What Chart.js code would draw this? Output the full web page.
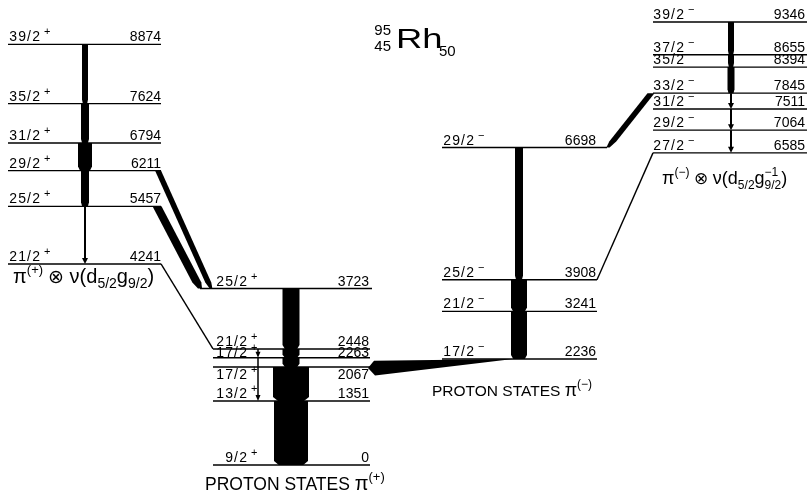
<!DOCTYPE html>
<html>
<head>
<meta charset="utf-8">
<script src="https://cdn.jsdelivr.net/npm/chart.js@4/dist/chart.umd.min.js"></script>
<style>
  html, body { margin: 0; padding: 0; background: #fff; }
  #wrap { width: 807px; height: 498px; }
</style>
</head>
<body>
<div id="wrap"><canvas id="scheme" width="807" height="498"></canvas></div>
<script>
// ---- Level energies (keV) and spin labels, per band ----
const hiPosSpins    = ['21/2', '25/2', '29/2', '31/2', '35/2', '39/2'];
const hiPosEnergies = [4241, 5457, 6211, 6794, 7624, 8874];

const protPosSpins    = ['9/2', '13/2', '17/2', '17/2', '21/2', '25/2'];
const protPosEnergies = [0, 1351, 2067, 2263, 2448, 3723];

const protNegSpins    = ['17/2', '21/2', '25/2', '29/2'];
const protNegEnergies = [2236, 3241, 3908, 6698];

const hiNegSpins    = ['27/2', '29/2', '31/2', '33/2', '35/2', '37/2', '39/2'];
const hiNegEnergies = [6585, 7064, 7511, 7845, 8394, 8655, 9346];

// ---- Gamma transitions: [initial keV, final keV, relative intensity] ----
const hiPosGammas   = [[8874, 7624, 6], [7624, 6794, 8], [6794, 6211, 14], [6211, 5457, 8], [5457, 4241, 2]];
const protPosGammas = [[3723, 2448, 17], [2448, 2263, 17], [2263, 2067, 17], [2067, 1351, 36], [1351, 0, 34]];
const protPosWeak   = [[2448, 2263, 1.5], [2263, 1351, 1.5]];
const protNegGammas = [[6698, 3908, 8], [3908, 3241, 16], [3241, 2236, 16]];
const hiNegGammas   = [[9346, 8655, 6], [8655, 8394, 6], [8394, 7845, 7], [7845, 7511, 2], [7511, 7064, 2], [7064, 6585, 2]];
// inter-band transitions
const linkGammas    = [[6211, 3723, 6], [5457, 3723, 9], [7845, 6698, 7]];
const wedgeGamma    = [2236, 2067, 14];
// band connections drawn as thin lines: [keV on one band, keV on the other]
const bandLinks     = [[4241, 2448], [3908, 6585]];

// ---- Layout of the four columns (x in canvas units) ----
const cols = {
  hiPos:   { x0: 8,   x1: 161, spinRight: 40,  eRight: 161, arrowX: 85,  sign: '+' },
  protPos: { x0: 213, x1: 370, spinRight: 247, eRight: 369, arrowX: 291, sign: '+' },
  protNeg: { x0: 442, x1: 597, spinRight: 474, eRight: 596, arrowX: 519, sign: '−' },
  hiNeg:   { x0: 653, x1: 807, spinRight: 684, eRight: 805, arrowX: 731, sign: '−' }
};
const extentOverride = { 3723: [200, 372], 6698: [442, 607] };
const labelShift = { 2263: 2, 2067: 15 };
const linkGeom = [
  { xs: 158, xe: 211 },
  { xs: 157, xe: 200 },
  { xs: 651, xe: 608 }
];
const bandLinkGeom = [{ xa: 161, xb: 213 }, { xa: 597, xb: 653 }];
const wedgeGeom = { xRight: 513, xTip: 368 };
const weakX = 258;

const bands = [
  { col: cols.hiPos,   spins: hiPosSpins,   energies: hiPosEnergies,   gammas: hiPosGammas },
  { col: cols.protPos, spins: protPosSpins, energies: protPosEnergies, gammas: protPosGammas },
  { col: cols.protNeg, spins: protNegSpins, energies: protNegEnergies, gammas: protNegGammas },
  { col: cols.hiNeg,   spins: hiNegSpins,   energies: hiNegEnergies,   gammas: hiNegGammas }
];

// ---- Level lines as line datasets ----
const datasets = [];
bands.forEach(b => {
  b.energies.forEach(e => {
    const ext = extentOverride[e] || [b.col.x0, b.col.x1];
    datasets.push({
      data: [{ x: ext[0], y: e }, { x: ext[1], y: e }],
      showLine: true, borderColor: '#000', borderWidth: 1.4,
      pointRadius: 0, fill: false
    });
  });
});
bandLinks.forEach((l, i) => {
  const g = bandLinkGeom[i];
  datasets.push({
    data: [{ x: g.xa, y: l[0] }, { x: g.xb, y: l[1] }],
    showLine: true, borderColor: '#000', borderWidth: 1.4,
    pointRadius: 0, fill: false
  });
});

const FONT = '"Liberation Sans", Arial, sans-serif';

function vArrow(ctx, cx, yt, yb, w) {
  if (w < 4) {
    const hh = 6, hw = w < 2 ? 2.5 : 3;
    ctx.lineWidth = w;
    ctx.beginPath(); ctx.moveTo(cx, yt); ctx.lineTo(cx, yb - hh + 1); ctx.stroke();
    ctx.beginPath(); ctx.moveTo(cx - hw, yb - hh); ctx.lineTo(cx + hw, yb - hh); ctx.lineTo(cx, yb); ctx.closePath(); ctx.fill();
    return;
  }
  const hh = Math.min(4, (yb - yt) * 0.35);
  const tip = w * 0.72;
  ctx.beginPath();
  ctx.moveTo(cx - w / 2, yt); ctx.lineTo(cx + w / 2, yt);
  ctx.lineTo(cx + w / 2, yb - hh); ctx.lineTo(cx + tip / 2, yb);
  ctx.lineTo(cx - tip / 2, yb); ctx.lineTo(cx - w / 2, yb - hh);
  ctx.closePath(); ctx.fill();
}

function dArrow(ctx, xs, ys, xe, ye, w) {
  const hh = 6;
  const t = 1 - hh / (ye - ys);
  const xm = xs + (xe - xs) * t, ym = ye - hh;
  const tip = w * 0.45;
  ctx.beginPath();
  ctx.moveTo(xs - w / 2, ys); ctx.lineTo(xs + w / 2, ys);
  ctx.lineTo(xm + w / 2, ym); ctx.lineTo(xe + tip / 2, ye);
  ctx.lineTo(xe - tip / 2, ye); ctx.lineTo(xm - w / 2, ym);
  ctx.closePath(); ctx.fill();
}

// text runs: [text, size, dy] or {sup, sub, size, dySup, dySub}
function textRuns(ctx, x, y, runs) {
  ctx.textAlign = 'left'; ctx.textBaseline = 'alphabetic';
  runs.forEach(r => {
    if (Array.isArray(r)) {
      ctx.font = r[1] + 'px ' + FONT;
      ctx.fillText(r[0], x, y + r[2]);
      x += ctx.measureText(r[0]).width;
    } else {
      ctx.font = r.size + 'px ' + FONT;
      ctx.fillText(r.sup, x, y + r.dySup);
      ctx.fillText(r.sub, x, y + r.dySub);
      x += Math.max(ctx.measureText(r.sup).width, ctx.measureText(r.sub).width);
    }
  });
}

const schemePlugin = {
  id: 'levelScheme',
  afterDatasetsDraw(chart) {
    const ctx = chart.ctx, xs = chart.scales.x, ys = chart.scales.y;
    const X = v => xs.getPixelForValue(v), Y = v => ys.getPixelForValue(v);
    ctx.save();
    ctx.fillStyle = '#000'; ctx.strokeStyle = '#000';

    // in-band cascades
    bands.forEach(b => {
      b.gammas.forEach(g => vArrow(ctx, X(b.col.arrowX), Y(g[0]), Y(g[1]), g[2]));
    });
    protPosWeak.forEach(g => vArrow(ctx, X(weakX), Y(g[0]), Y(g[1]), g[2]));

    // inter-band transitions
    linkGammas.forEach((g, i) => {
      const geo = linkGeom[i];
      dArrow(ctx, X(geo.xs), Y(g[0]), X(geo.xe), Y(g[1]), g[2]);
    });

    // tapered 2236 -> 2067 transition
    {
      const yF = Y(wedgeGamma[0]), yT = Y(wedgeGamma[1]), w = wedgeGamma[2];
      const xr = X(wedgeGeom.xRight), xt = X(wedgeGeom.xTip);
      ctx.beginPath();
      ctx.moveTo(xr, yF);
      ctx.lineTo(xt + 6, yT - w * 0.45);
      ctx.lineTo(xt, yT + 1);
      ctx.lineTo(xt + 7, yT + w * 0.6);
      ctx.closePath(); ctx.fill();
    }

    // level labels
    bands.forEach(b => {
      b.energies.forEach((e, i) => {
        const y = Y(e) - 3 + (labelShift[e] || 0);
        ctx.textBaseline = 'alphabetic';
        ctx.font = '14px ' + FONT;
        ctx.textAlign = 'right';
        ctx.letterSpacing = '0px';
        ctx.fillText(String(e), X(b.col.eRight), y);
        ctx.letterSpacing = '1.2px';
        ctx.fillText(b.spins[i], X(b.col.spinRight) + 1.2, y);
        ctx.letterSpacing = '0px';
        ctx.textAlign = 'left';
        ctx.font = '11px ' + FONT;
        ctx.fillText(b.col.sign, X(b.col.spinRight) + 4, y - 6);
      });
    });

    // band configuration labels
    textRuns(ctx, X(13), Y(4241) + 19, [
      ['π', 20, 0], ['(+)', 13, -9], [' ⊗ ', 19, 0], ['ν(d', 20, 0],
      ['5/2', 14, 5], ['g', 20, 0], ['9/2', 14, 5], [')', 20, 0]
    ]);
    textRuns(ctx, X(662), Y(6585) + 31, [
      ['π', 18, 0], ['(−)', 12, -8], [' ⊗ ', 17, 0], ['ν(d', 18, 0],
      ['5/2', 12, 5], ['g', 18, 0],
      { sup: '−1', sub: '9/2', size: 12, dySup: -8, dySub: 5 }, [')', 18, 0]
    ]);

    // proton-state captions
    textRuns(ctx, 432, 396, [['PROTON STATES ', 15.5, 0], ['π', 18, 0], ['(−)', 12, -8]]);
    textRuns(ctx, 205, 490, [['PROTON STATES ', 17.5, 0], ['π', 20, 0], ['(+)', 13, -9]]);

    // nucleus symbol
    ctx.font = '15px ' + FONT;
    ctx.textAlign = 'right';
    ctx.fillText('95', 391, 35);
    ctx.fillText('45', 391, 51);
    ctx.textAlign = 'left';
    ctx.save();
    ctx.translate(396, 48);
    ctx.scale(1.3, 1);
    ctx.font = '28px ' + FONT;
    ctx.fillText('Rh', 0, 0);
    ctx.restore();
    ctx.font = '15px ' + FONT;
    ctx.fillText('50', 439, 56);

    ctx.restore();
  }
};

new Chart(document.getElementById('scheme'), {
  type: 'scatter',
  data: { datasets },
  options: {
    responsive: false,
    animation: false,
    events: [],
    layout: { padding: 0 },
    plugins: { legend: { display: false }, tooltip: { enabled: false } },
    scales: {
      x: { type: 'linear', min: 0, max: 807, display: false },
      y: { type: 'linear', min: -696, max: 9810, display: false }
    }
  },
  plugins: [schemePlugin]
});
</script>
</body>
</html>
